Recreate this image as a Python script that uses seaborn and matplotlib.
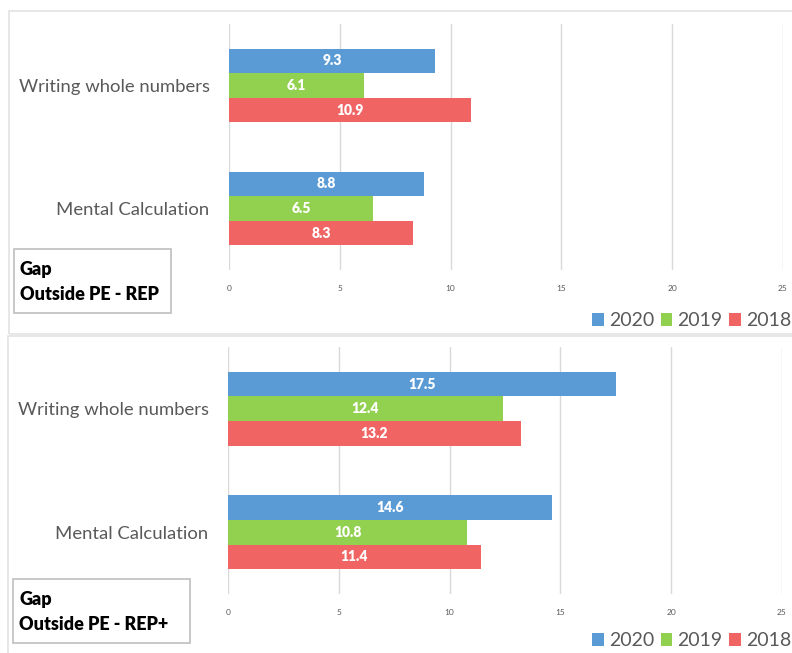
import pandas as pd
import numpy as np
import matplotlib
matplotlib.use("Agg")
import matplotlib.pyplot as plt
import seaborn as sns
from matplotlib.patches import Patch, Rectangle

# Data
categories = ["Writing whole numbers", "Mental Calculation"]
years = ["2020", "2019", "2018"]
rep_2020 = [9.3, 8.8]
rep_2019 = [6.1, 6.5]
rep_2018 = [10.9, 8.3]
repplus_2020 = [17.5, 14.6]
repplus_2019 = [12.4, 10.8]
repplus_2018 = [13.2, 11.4]
xticks = [0, 5, 10, 15, 20, 25]
box_titles = ["Gap\nOutside PE - REP", "Gap\nOutside PE - REP+"]

colors = {"2020": "#5B9BD5", "2019": "#92D050", "2018": "#F06464"}
label_gray = "#595959"
grid_gray = "#D9D9D9"

sns.set_style("white")
plt.rcParams["font.family"] = ["Lato", "DejaVu Sans"]


def make_frame(v2020, v2019, v2018):
    rows = []
    for yr, vals in zip(years, [v2020, v2019, v2018]):
        for cat, v in zip(categories, vals):
            rows.append({"category": cat, "year": yr, "value": v})
    return pd.DataFrame(rows)


frames = [make_frame(rep_2020, rep_2019, rep_2018),
          make_frame(repplus_2020, repplus_2019, repplus_2018)]

W, H = 792, 653
fig = plt.figure(figsize=(W / 100, H / 100), dpi=100)

# panel layout in pixels: (axis left, axis top, axis right, axis bottom)
axes_px = [(229, 24, 783, 270), (228, 347, 782, 594)]
panel_px = [(9, 11, 805, 334), (8, 336, 805, 665)]
box_px = [(14, 249, 171, 313), (13, 579, 190, 643)]
legend_y = [321, 641]

for df, (l, t, r, b), (pl, pt, pr, pb), (bl, bt, br, bb), title, ly in zip(
        frames, axes_px, panel_px, box_px, box_titles, legend_y):
    # panel frame
    fig.patches.append(Rectangle((pl / W, 1 - pb / H), (pr - pl) / W, (pb - pt) / H,
                                 transform=fig.transFigure, fill=False,
                                 edgecolor="#E3E3E3", linewidth=1.2))
    ax = fig.add_axes([l / W, 1 - b / H, (r - l) / W, (b - t) / H])
    sns.barplot(data=df, x="value", y="category", hue="year", hue_order=years,
                palette=colors, orient="h", width=0.6, ax=ax, legend=False,
                saturation=1, edgecolor="none")
    ax.set_xlim(0, 25)
    ax.set_ylim(1.5, -0.5)
    ax.set_xticks(xticks)
    ax.xaxis.grid(True, color=grid_gray, linewidth=1.0)
    ax.set_axisbelow(True)
    for s in ax.spines.values():
        s.set_visible(False)
    ax.tick_params(axis="x", length=0, pad=11, labelsize=6, labelcolor=label_gray)
    ax.tick_params(axis="y", length=0, pad=14, labelsize=13.3, labelcolor=label_gray)
    ax.set_xlabel("")
    ax.set_ylabel("")
    for cont in ax.containers:
        ax.bar_label(cont, fmt="%.1f", label_type="center", color="white",
                     fontsize=10, fontweight="heavy")

    # text box
    fig.patches.append(Rectangle((bl / W, 1 - bb / H), (br - bl) / W, (bb - bt) / H,
                                 transform=fig.transFigure, fill=True, facecolor="white",
                                 edgecolor="#BFBFBF", linewidth=1.2))
    fig.text((bl + 6) / W, 1 - (bt + 33) / H, title, fontsize=13, fontweight="heavy",
             color="black", va="center", ha="left", linespacing=1.55)

    handles = [Patch(facecolor=colors[y], edgecolor="none", label=y) for y in years]
    fig.legend(handles=handles, loc="center right", bbox_to_anchor=(791 / W, 1 - ly / H),
               ncol=3, frameon=False, fontsize=14, handlelength=0.6, handleheight=0.6,
               handletextpad=0.25, columnspacing=0.35, borderaxespad=0, borderpad=0,
               labelcolor=label_gray)

fig.savefig("out.png", dpi=100)
